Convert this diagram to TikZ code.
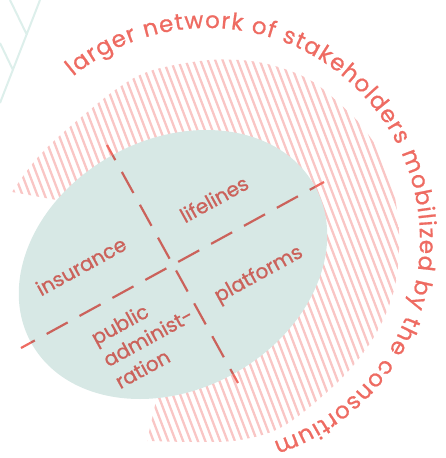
\documentclass[tikz,border=0pt]{standalone}
\usepackage{fontspec}
\setmainfont{Poppins}[FakeBold=0.8]
\usetikzlibrary{calc, positioning}
\usetikzlibrary{decorations.text}

\definecolor{coral}{HTML}{EE6B62}
\definecolor{rust}{HTML}{CB625B}
\definecolor{sage}{HTML}{D7E8E5}
\definecolor{blush}{HTML}{F9C6C5}
\definecolor{mist}{HTML}{DDEFEB}

\tikzset{
  quadlabel/.style={text=rust, font=\fontsize{20}{25}\selectfont, rotate=28.8, inner sep=0pt},
  axisline/.style={line width=2.2pt, dash pattern=on 24pt off 13.5pt},
  hatchline/.style={blush, line width=2.3pt},
  disc/.style={rotate around={28.8:(C)}},
}

\begin{document}
\begin{tikzpicture}[x=1pt, y=-1pt]
    \useasboundingbox (0,0) rectangle (446,458);

    % little vein in the corner
    \draw[mist, line width=2pt] (40,0) -- (0,103) (10,0) -- (27,35) (0,43) -- (13,70);

    % hatched outer blob
    \begin{scope}
        \clip plot[smooth, tension=0.6] coordinates {(12,192) (33,163) (55,140) (85,114)
            (118,88) (150,71) (200,61) (240,60) (275,66) (310,80) (340,104) (365,130)
            (387,167) (397,210) (399,250) (394,290) (378,330) (352,367) (318,400)
            (280,428) (240,440) (200,442) (147,441)}
            -- (158,392) -- (120,300) -- (62,201) -- cycle;
        \foreach \x in {-200,-192.6,...,460}
            \draw[hatchline] (\x,0) -- ++(175,458);
    \end{scope}

    \coordinate (C) at (173,264.5);
    \coordinate (E) at (21,348);   % long axis
    \coordinate (F) at (324,182);
    \coordinate (N) at (107,145);  % short axis
    \coordinate (S) at (238,383);

    \draw[axisline, coral, dash phase=8.25pt] (E) -- (F);
    \draw[axisline, coral, dash phase=6.75pt] (N) -- (S);

    \fill[sage, disc] (C) ellipse [x radius=162pt, y radius=125pt];

    \begin{scope}
        \clip[disc] (C) ellipse [x radius=162pt, y radius=125pt];
        \draw[axisline, rust, dash phase=8.25pt] (E) -- (F);
        \draw[axisline, rust, dash phase=6.75pt] (N) -- (S);
    \end{scope}

    \node[quadlabel] (insurance) at (81,266) {insurance};
    \node[quadlabel] (lifelines) at (214,199) {lifelines};
    \node[quadlabel] (platforms) at (259,275) {platforms};
    \node[quadlabel, align=left] (publicadmin) at (148,337) {public\\administ-\\ration};

    % caption running round the blob
    \coordinate (O) at (208,240);
    \path[decorate, decoration={text along path, text align=fit to path, text color=coral,
        text={|\fontsize{23}{23}\selectfont|larger network of stakeholders mobilized by the consortium}}]
        (O) ++(129.5:212pt) arc[start angle=129.5, end angle=-72, radius=212pt];
\end{tikzpicture}
\end{document}
